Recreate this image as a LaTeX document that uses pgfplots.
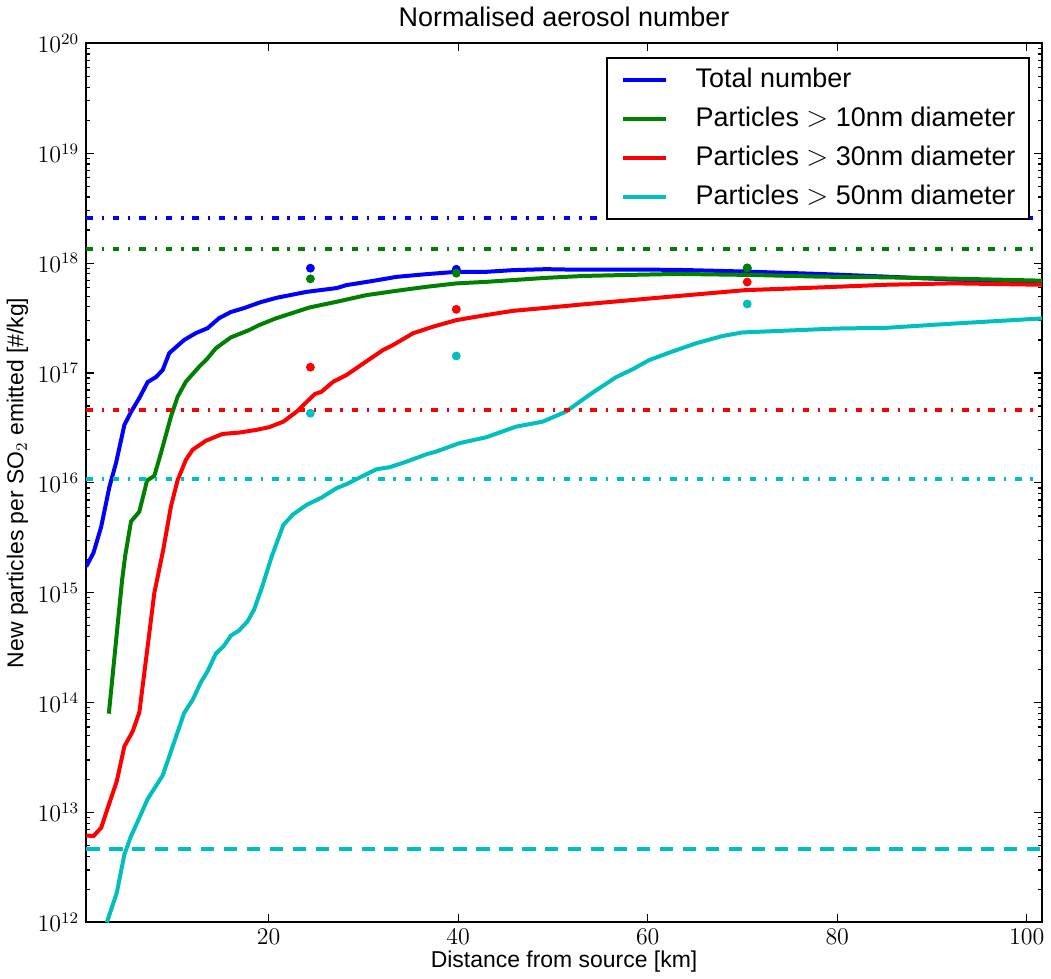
\documentclass[border=0pt]{standalone}
\usepackage{pgfplots}
\pgfplotsset{compat=1.18}
\usepackage{fontspec}
\setmainfont{Liberation Sans}

\definecolor{mplb}{rgb}{0,0,1}
\definecolor{mplg}{rgb}{0,0.5,0}
\definecolor{mplr}{rgb}{1,0,0}
\definecolor{mplc}{rgb}{0,0.75,0.75}

\tikzset{mpldashdot/.style={dash pattern=on 3.3pt off 4.4pt on 1.2pt off 4.4pt}}

\begin{document}
\begin{tikzpicture}
\begin{axis}[
    scale only axis,
    width=479pt, height=440.5pt,
    ymode=log,
    xmin=0.74, xmax=101.6,
    ymin=1e12, ymax=1e20,
    xtick={20,40,60,80,100},
    ytick={1e12,1e13,1e14,1e15,1e16,1e17,1e18,1e19,1e20},
    tick align=inside,
    major tick length=4pt, minor tick length=2pt,
    every tick/.style={black, line width=0.6pt},
    axis line style={line width=1pt},
    tick label style={font=\fontsize{12}{14}\selectfont},
    title={Normalised aerosol number},
    title style={font=\fontsize{13.5}{16}\selectfont, yshift=-1pt},
    xlabel={Distance from source [km]},
    ylabel={New particles per SO$_2$ emitted [\#/kg]},
    label style={font=\fontsize{11.5}{13}\selectfont},
    xlabel style={yshift=4pt},
    ylabel style={yshift=-2pt},
    legend style={at={(rel axis cs:0.988,0.984)}, anchor=north east,
        draw=black, line width=1pt, inner xsep=7pt, inner ysep=4.5pt,
        font=\fontsize{13.5}{16}\selectfont, row sep=6.5pt,
        nodes={inner sep=0pt, text height=10pt, text depth=3pt},
        column sep=0pt},
    legend cell align=left,
    legend image code/.code={\draw[#1] (0pt,0pt) -- (21.5pt,0pt); \path (35.5pt,0pt);},
]

% main curves
\addplot[mplb, line width=2pt] coordinates {
(0.74,1.73e15) (1.51,2.31e15) (2.32,3.98e15) (3.19,9.2e15) (3.89,1.52e16)
(4.77,3.37e16) (5.47,4.42e16) (6.35,5.93e16) (7.23,8.28e16) (8.11,9.2e16)
(8.81,1.065e17) (9.51,1.52e17) (11.08,2.0e17) (12.32,2.31e17) (13.55,2.56e17)
(14.77,3.16e17) (16.0,3.59e17) (17.4,3.90e17) (19.16,4.42e17) (20.84,4.84e17)
(24.0,5.48e17) (27.16,5.93e17) (28.2,6.31e17) (31.02,6.90e17) (33.47,7.50e17)
(36.63,7.94e17) (39.79,8.34e17) (42.95,8.34e17) (45.76,8.64e17) (49.26,8.82e17)
(51.44,8.75e17) (57.84,8.75e17) (63.16,8.69e17) (70.28,8.39e17) (78.1,7.98e17)
(85.2,7.54e17) (92.3,7.08e17) (97.7,6.83e17) (101.6,6.69e17)
};
\addlegendentry{Total number}

\addplot[mplg, line width=2pt] coordinates {
(3.13,7.94e13) (4.53,1.31e15) (4.87,2.21e15) (5.47,4.45e15) (6.35,5.48e15)
(7.16,1.05e16) (7.93,1.16e16) (8.63,1.87e16) (9.68,4.0e16) (10.39,6.09e16)
(11.26,8.34e16) (12.66,1.14e17) (13.55,1.36e17) (14.42,1.68e17) (16.0,2.11e17)
(17.93,2.46e17) (18.98,2.73e17) (20.74,3.14e17) (24.35,3.96e17) (27.16,4.45e17)
(30.32,5.12e17) (33.47,5.60e17) (36.63,6.09e17) (39.79,6.54e17) (42.95,6.76e17)
(49.26,7.35e17) (53.22,7.65e17) (57.84,7.81e17) (63.16,7.98e17) (71.0,7.81e17)
(78.1,7.54e17) (85.2,7.43e17) (92.3,7.23e17) (101.6,6.93e17)
};
\addlegendentry{Particles $>$ 10nm diameter}

\addplot[mplr, line width=2pt] coordinates {
(0.74,6.18e12) (1.51,6.1e12) (2.32,7.26e12) (3.19,1.22e13) (3.97,1.93e13)
(4.77,4.0e13) (5.65,5.48e13) (6.35,8.17e13) (7.05,2.46e14) (7.93,9.94e14)
(8.87,2.46e15) (9.68,6.09e15) (10.39,1.06e16) (11.26,1.62e16) (11.97,2.0e16)
(13.37,2.42e16) (15.13,2.79e16) (16.87,2.87e16) (18.63,3.03e16) (20.03,3.21e16)
(21.55,3.61e16) (22.95,4.45e16) (24.87,6.44e16) (25.58,6.76e16) (26.81,8.34e16)
(28.21,9.59e16) (29.97,1.22e17) (32.07,1.62e17) (33.13,1.80e17) (35.23,2.30e17)
(37.34,2.64e17) (39.79,3.03e17) (42.95,3.37e17) (45.76,3.68e17) (49.26,3.92e17)
(53.22,4.22e17) (62.1,4.93e17) (70.28,5.68e17) (78.1,6.01e17) (85.2,6.36e17)
(92.3,6.55e17) (101.6,6.36e17)
};
\addlegendentry{Particles $>$ 30nm diameter}

\addplot[mplc, line width=2pt] coordinates {
(2.92,1.0e12) (3.97,1.86e12) (4.77,4.15e12) (5.47,6.09e12) (6.35,8.95e12)
(7.23,1.33e13) (8.81,2.17e13) (9.51,3.25e13) (11.08,8.06e13) (11.97,1.06e14)
(12.84,1.53e14) (13.55,1.93e14) (14.42,2.79e14) (15.29,3.30e14) (16.0,4.06e14)
(16.87,4.54e14) (17.76,5.48e14) (18.45,7.0e14) (19.32,1.14e15) (20.32,2.14e15)
(21.55,4.15e15) (22.6,5.19e15) (24.0,6.31e15) (25.58,7.35e15) (27.16,8.95e15)
(28.21,9.73e15) (29.61,1.12e16) (31.37,1.33e16) (32.77,1.39e16) (34.53,1.56e16)
(36.63,1.82e16) (37.68,1.93e16) (40.14,2.30e16) (42.95,2.60e16) (46.1,3.25e16)
(48.92,3.61e16) (51.37,4.45e16) (53.82,6.31e16) (56.63,9.14e16) (58.39,1.08e17)
(60.14,1.31e17) (62.24,1.53e17) (65.05,1.86e17) (67.86,2.17e17) (69.97,2.34e17)
(74.53,2.43e17) (79.9,2.54e17) (85.2,2.58e17) (92.3,2.82e17) (101.6,3.14e17)
};
\addlegendentry{Particles $>$ 50nm diameter}

% measured points
\addplot[only marks, mark=*, mark size=2pt, mplb, forget plot] coordinates {(24.4,9.0e17) (39.8,8.8e17) (70.5,9.0e17)};
\addplot[only marks, mark=*, mark size=2pt, mplg, forget plot] coordinates {(24.4,7.2e17) (39.8,8.1e17) (70.5,9.06e17)};
\addplot[only marks, mark=*, mark size=2pt, mplr, forget plot] coordinates {(24.4,1.13e17) (39.8,3.8e17) (70.5,6.73e17)};
\addplot[only marks, mark=*, mark size=2pt, mplc, forget plot] coordinates {(24.4,4.3e16) (39.8,1.43e17) (70.5,4.25e17)};

% reference levels
\addplot[mplb, line width=2pt, mpldashdot, forget plot] coordinates {(0.74,2.6e18) (101.6,2.6e18)};
\addplot[mplg, line width=2pt, mpldashdot, forget plot] coordinates {(0.74,1.34e18) (101.6,1.34e18)};
\addplot[mplr, line width=2pt, mpldashdot, forget plot] coordinates {(0.74,4.6e16) (101.6,4.6e16)};
\addplot[mplc, line width=2pt, mpldashdot, forget plot] coordinates {(0.74,1.09e16) (101.6,1.09e16)};
\addplot[mplc, line width=2pt, dash pattern=on 6.7pt off 4.8pt, forget plot] coordinates {(0.74,4.7e12) (101.6,4.7e12)};
\end{axis}
\end{tikzpicture}
\end{document}
